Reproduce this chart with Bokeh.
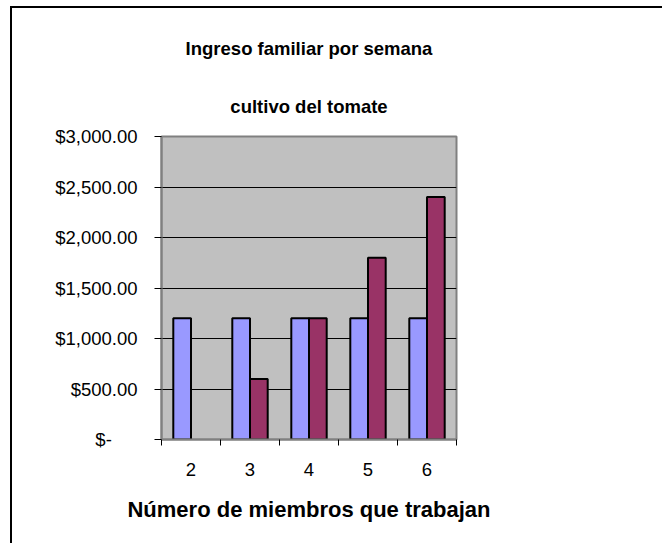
import numpy as np
from bokeh.plotting import figure
from bokeh.models import (ColumnDataSource, FixedTicker, NumeralTickFormatter, Range1d,
                          Legend, LegendItem, Title)
from bokeh.transform import dodge
from bokeh.embed import file_html
from bokeh.resources import INLINE

categories = ["2", "3", "4", "5", "6"]
adultos = [1200, 1200, 1200, 1200, 1200]
trabajo_infantil = [np.nan, 600, 1200, 1800, 2400]
y_ticks = [0, 500, 1000, 1500, 2000, 2500, 3000]
series_names = ["Adultos", "Trabajo Infantil"]
title_lines = ["Ingreso familiar por semana", "cultivo del tomate"]
x_title = "Número de miembros que trabajan"
zero_label = "$-\u00a0\u00a0\u00a0\u00a0\u00a0"

FONT = "Liberation Sans"

pos = np.arange(1, len(categories) + 1)
src = ColumnDataSource(dict(x=pos, adultos=adultos, infantil=trabajo_infantil))

p = figure(frame_width=295, frame_height=303, output_backend="svg", toolbar_location=None,
           x_range=Range1d(0.5, len(categories) + 0.5), y_range=Range1d(0, 3000),
           min_border_left=149, min_border_right=206, min_border_top=128, min_border_bottom=104)

p.styles = {"margin-left": "10px", "margin-top": "6px",
            "border-left": "2px solid #000000", "border-top": "2px solid #000000"}

p.background_fill_color = "#C0C0C0"
p.border_fill_color = "white"
p.outline_line_color = "#808080"
p.outline_line_width = 2

bw = 0.3
r1 = p.vbar(x=dodge("x", -bw / 2), top="adultos", width=bw, source=src,
            fill_color="#9999FF", line_color="black", line_width=2)
r2 = p.vbar(x=dodge("x", bw / 2), top="infantil", width=bw, source=src,
            fill_color="#993366", line_color="black", line_width=2)

# title: two centred lines (second line is closest to the frame)
def style_title(t, standoff):
    t.align = "center"
    t.standoff = standoff
    t.text_font = FONT
    t.text_font_style = "bold"
    t.text_font_size = "18.5px"
    t.text_color = "black"

p.title.text = title_lines[0]
style_title(p.title, 30)
t2 = Title(text=title_lines[1])
style_title(t2, 40)
p.add_layout(t2, "above")

# x axis
xa = p.xaxis[0]
xa.ticker = FixedTicker(ticks=list(pos), minor_ticks=list(np.arange(0.5, len(categories) + 1, 1.0)))
xa.major_label_overrides = {int(k): c for k, c in zip(pos, categories)}
xa.major_tick_line_color = None
xa.major_tick_out = 0
xa.major_tick_in = 0
xa.minor_tick_line_color = "black"
xa.minor_tick_out = 6
xa.minor_tick_in = 0
xa.axis_line_color = "#808080"
xa.axis_line_width = 2
xa.major_label_text_font = FONT
xa.major_label_text_font_size = "18.5px"
xa.major_label_text_color = "black"
xa.major_label_standoff = 17
xa.axis_label = x_title
xa.axis_label_text_font = FONT
xa.axis_label_text_font_style = "bold"
xa.axis_label_text_font_size = "22px"
xa.axis_label_text_color = "black"
xa.axis_label_standoff = 18

# y axis
ya = p.yaxis[0]
ya.ticker = FixedTicker(ticks=y_ticks)
ya.formatter = NumeralTickFormatter(format="$0,0.00")
ya.major_label_overrides = {0: zero_label}
ya.axis_line_color = "#808080"
ya.axis_line_width = 2
ya.major_tick_line_color = "black"
ya.major_tick_out = 7
ya.major_tick_in = 0
ya.minor_tick_line_color = None
ya.major_label_text_font = FONT
ya.major_label_text_font_size = "18.5px"
ya.major_label_text_color = "black"
ya.major_label_standoff = 17

p.xgrid.visible = False
p.ygrid.ticker = FixedTicker(ticks=y_ticks)
p.ygrid.grid_line_color = "black"
p.ygrid.grid_line_width = 1

# legend
lg = Legend(items=[LegendItem(label=series_names[0], renderers=[r1]),
                   LegendItem(label=series_names[1], renderers=[r2])],
            location="center_right")
lg.border_line_color = "black"
lg.border_line_width = 1
lg.background_fill_color = "white"
lg.background_fill_alpha = 1
lg.label_text_font = FONT
lg.label_text_font_size = "20.5px"
lg.label_text_color = "black"
lg.glyph_width = 13
lg.glyph_height = 13
lg.label_standoff = 5
lg.padding = 6
lg.spacing = 11
lg.margin = 7
lg.label_width = 146
p.add_layout(lg, "right")

open("out.html", "w").write(file_html(p, INLINE))
